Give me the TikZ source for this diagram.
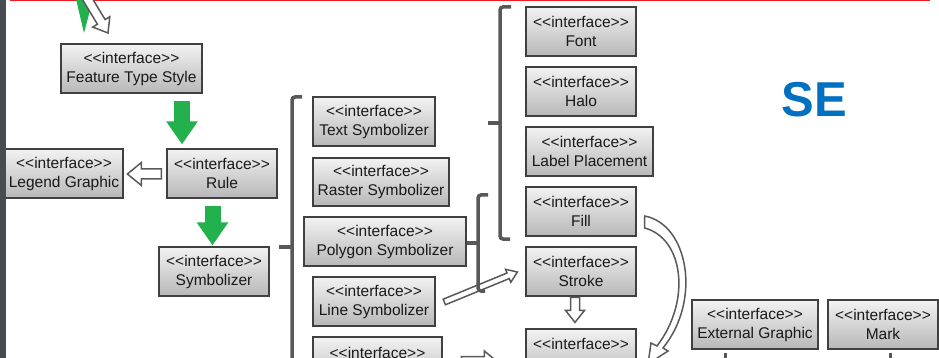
\documentclass[tikz,border=0pt]{standalone}
\usepackage{fontspec}
\setmainfont{Liberation Sans}[Ligatures=TeXOff]
\usetikzlibrary{arrows.meta,calc}
\definecolor{boxline}{RGB}{64,64,64}
\definecolor{brk}{RGB}{88,88,88}
\definecolor{sgreen}{RGB}{34,177,76}
\definecolor{seblue}{RGB}{0,112,192}
\definecolor{barc}{RGB}{72,76,80}
\definecolor{redl}{RGB}{237,28,36}
\tikzset{
  iface/.style={draw=boxline, line width=1.2pt, top color=black!5, bottom color=black!28,
    inner sep=0pt, align=center, font=\fontsize{15.5}{19}\selectfont, text=black!90,
    minimum height=49pt},
  hollowst/.style={draw=black!65, fill=white, line width=1.5pt, line join=miter},
  % hollow arrow with origin at its tip: length / shaft half width / head half width / head length
  pics/hollow/.style args={#1/#2/#3/#4}{code={
    \draw[hollowst] (0,0) -- (-#4,#3) -- (-#4,#2) -- (-#1,#2) -- (-#1,-#2)
      -- (-#4,-#2) -- (-#4,-#3) -- cycle;}},
  garrow/.style={draw=sgreen, line width=16pt, -{Triangle[length=23pt,width=30pt]}},
  brack/.style={draw=brk, line width=3.5pt, rounded corners=3pt},
}
\begin{document}
\begin{tikzpicture}[x=1pt,y=-1pt]
\useasboundingbox (0,0) rectangle (939,358);
\clip (0,0) rectangle (939,358);
% top red line
\draw[redl, line width=2pt] (10,0.5) -- (930,0.5);
% green triangle at top
\fill[sgreen] (76,-1) -- (93,-1) -- (84,33) -- cycle;
% nodes
\node[iface, minimum width=141pt] (fts) at (131.5,68.5) {<<interface>>\\Feature Type Style};
\node[iface, minimum width=110pt] (rule) at (222,173.5) {<<interface>>\\Rule};
\node[iface, minimum width=118pt] (legend) at (64,173.5) {<<interface>>\\Legend Graphic};
\node[iface, minimum width=110pt] (symb) at (214,271.5) {<<interface>>\\Symbolizer};
\node[iface, minimum width=122pt] (text) at (374,121.5) {<<interface>>\\Text Symbolizer};
\node[iface, minimum width=136pt, minimum height=48pt] (raster) at (381,182) {<<interface>>\\Raster Symbolizer};
\node[iface, minimum width=162pt] (poly) at (385,241.5) {<<interface>>\\Polygon Symbolizer};
\node[iface, minimum width=122pt] (line) at (374,301.5) {<<interface>>\\Line Symbolizer};
\node[iface, minimum width=129pt, minimum height=51pt] (point) at (377.5,362.5) {<<interface>>\\[1pt]~};
\node[iface, minimum width=110pt] (font) at (581,31.5) {<<interface>>\\Font};
\node[iface, minimum width=110pt] (halo) at (581,91.5) {<<interface>>\\Halo};
\node[iface, minimum width=127pt] (label) at (589.5,151.5) {<<interface>>\\Label Placement};
\node[iface, minimum width=110pt] (fill) at (581,211.5) {<<interface>>\\Fill};
\node[iface, minimum width=110pt] (stroke) at (581,271.5) {<<interface>>\\Stroke};
\node[iface, minimum width=110pt] (graphic) at (581,353.5) {<<interface>>\\~};
\node[iface, minimum width=126pt] (extg) at (755,324.5) {<<interface>>\\External Graphic};
\node[iface, minimum width=110pt] (mark) at (883,324.5) {<<interface>>\\Mark};
% SE label
\node[font=\fontsize{49}{50}\selectfont\bfseries, text=seblue] (se) at (814,100) {SE};
% left dark bar
\fill[barc] (0,0) rectangle (6,358);
% green arrows
\draw[garrow] ($(fts.south)+(50.5,7)$) -- ($(rule.north)+(-40,-4)$);
\draw[garrow] ($(rule.south)+(-9.5,7)$) -- ($(symb.north)+(-1.5,-1)$);
% hollow arrows (origin at tip)
\pic[rotate=-58.8] at (108,33) {hollow=44/4.5/10/13};
\pic[rotate=180] at ($(rule.west)+(-39,0.5)$) {hollow=34/5/11.5/14};
\pic[rotate=-90] at ($(graphic.north)+(-6,-6)$) {hollow=25/4.5/9.5/12};
\pic[rotate=22.3] at ($(stroke.west)+(-8,0.5)$) {hollow=79/3/7/10};
\pic at ($(graphic.west)+(-29,7.5)$) {hollow=35/4.5/10/12};
% curved band arrow from Fill
\filldraw[hollowst]
  ($(fill.east)+(8,4.5)$) .. controls (688,224) and (702,300) .. (663,348)
  -- (668,351) -- (648,364) -- (651,343) -- (657,346)
  .. controls (692,300) and (683,238) .. ($(fill.east)+(8,16.5)$) -- cycle;
% brackets
\draw[brack] (302,97) -- (292,97) -- (292,400);
\draw[brack] (292,247) -- (279,247);
\draw[brack] (511,7) -- (500,7) -- (500,239) -- (510,239);
\draw[brack] (500,123) -- (488,123);
\draw[brack] (488,195) -- (478,195) -- (478,291) -- (485,291);
\draw[brack] (478,243) -- (poly.east |- 0,243);
% stems under bottom right boxes
\draw[brk, line width=3pt] ($(extg.south)+(-30,3)$) -- ++(0,12);
\draw[brk, line width=3pt] ($(mark.south)+(7,3)$) -- ++(0,12);
\end{tikzpicture}
\end{document}
